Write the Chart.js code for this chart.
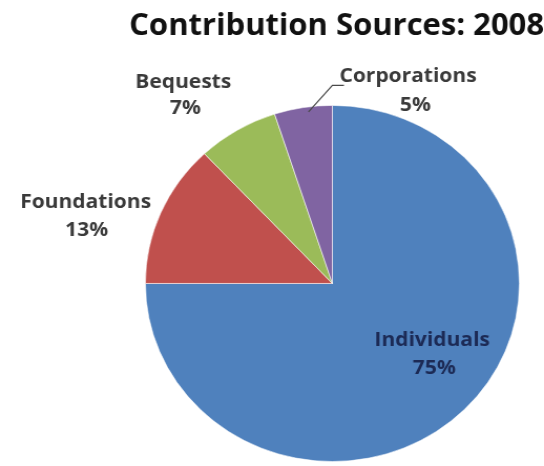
<!DOCTYPE html>
<html><head><meta charset="utf-8">
<script src="https://cdn.jsdelivr.net/npm/chart.js@4/dist/chart.umd.min.js"></script>
<style>html,body{margin:0;padding:0;background:#fff;overflow:hidden}#c{display:block;width:544px;height:466px}</style>
</head><body><canvas id="c" width="518" height="466" style="width:544px;height:466px"></canvas>
<script>
const categories = ["Individuals", "Foundations", "Bequests", "Corporations"];
const values = [75, 13, 7, 5];
const percentLabels = ["75%", "13%", "7%", "5%"];
const colors = ["#4F81BD", "#C0504D", "#9BBB59", "#8064A2"];
const titleText = "Contribution Sources: 2008";

// label placement relative to pie centre (name and percent offsets) and text colour
const labelLayout = [
  {nx: 95, ny: 57, px: 97, py: 85, color: "#1C2A55"},
  {nx: -235, ny: -81, px: -234, py: -53, color: "#3A3A3A"},
  {nx: -142, ny: -201, px: -140, py: -175, color: "#3A3A3A"},
  {nx: 72, ny: -207, px: 79, py: -178, color: "#3A3A3A", leader: [[0, -198], [11, -198]]}
];

const labelPlugin = {
  id: 'sliceLabels',
  afterDatasetsDraw(chart) {
    const ctx = chart.ctx;
    const meta = chart.getDatasetMeta(0);
    ctx.save();
    ctx.textAlign = 'center';
    ctx.textBaseline = 'middle';
    meta.data.forEach((arc, i) => {
      const L = labelLayout[i];
      if (L.leader) {
        const a = arc.startAngle + 0.58 * (arc.endAngle - arc.startAngle);
        const r = arc.outerRadius - 5;
        ctx.strokeStyle = '#4a4a4a';
        ctx.lineWidth = 1.2;
        ctx.beginPath();
        ctx.moveTo(arc.x + Math.cos(a) * r, arc.y + Math.sin(a) * r);
        L.leader.forEach(p => ctx.lineTo(arc.x + p[0], arc.y + p[1]));
        ctx.stroke();
      }
      ctx.fillStyle = L.color;
      ctx.font = 'bold 20px "Open Sans"';
      ctx.fillText(categories[i], arc.x + L.nx, arc.y + L.ny);
      ctx.fillText(percentLabels[i], arc.x + L.px, arc.y + L.py);
    });
    ctx.restore();
  }
};

new Chart(document.getElementById('c'), {
  type: 'pie',
  data: {
    labels: categories,
    datasets: [{
      data: values,
      backgroundColor: colors,
      borderColor: 'rgba(255,255,255,0.55)',
      borderWidth: 1,
      hoverOffset: 0
    }]
  },
  options: {
    responsive: false,
    animation: false,
    layout: {padding: {left: 115, right: 0, top: 0, bottom: 4}},
    plugins: {
      legend: {display: false},
      tooltip: {enabled: false},
      title: {
        display: true,
        text: titleText,
        align: 'end',
        color: '#111',
        font: {family: 'Open Sans', size: 29.5, weight: 'bold'},
        padding: {top: 9, bottom: 60.5}
      }
    }
  },
  plugins: [labelPlugin]
});
</script>
</body></html>
